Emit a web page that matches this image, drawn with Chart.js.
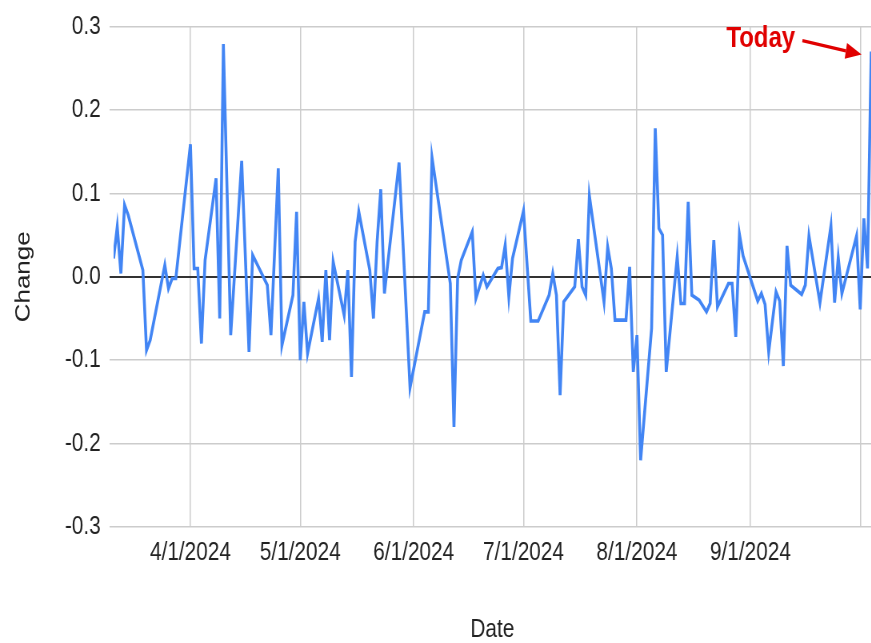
<!DOCTYPE html>
<html lang="en">
<head>
  <meta charset="UTF-8">
  <script src="https://cdn.jsdelivr.net/npm/chart.js"></script>
  <title>Change by Date</title>
  <style>
    html, body { margin: 0; padding: 0; background: #fff; overflow: hidden; }
    /* the reference is horizontally squeezed, so draw wide and squeeze */
    #wrap { width: 1089px; height: 643px; transform: scaleX(0.8); transform-origin: 0 0; }
  </style>
</head>
<body>
  <div id="wrap">
    <canvas id="grafico" width="1089" height="643"></canvas>
  </div>

  <script>
    const dates = [
      '2024-03-11','2024-03-12','2024-03-13','2024-03-14','2024-03-15','2024-03-19','2024-03-20','2024-03-21',
      '2024-03-25','2024-03-26','2024-03-27','2024-03-28',
      '2024-04-01','2024-04-02','2024-04-03','2024-04-04','2024-04-05','2024-04-08','2024-04-09','2024-04-10',
      '2024-04-12','2024-04-15','2024-04-17','2024-04-18','2024-04-22','2024-04-23','2024-04-25','2024-04-26',
      '2024-04-29','2024-04-30',
      '2024-05-01','2024-05-02','2024-05-03','2024-05-06','2024-05-07','2024-05-08','2024-05-09','2024-05-10',
      '2024-05-13','2024-05-14','2024-05-15','2024-05-16','2024-05-17','2024-05-20','2024-05-21','2024-05-22',
      '2024-05-23','2024-05-24','2024-05-28','2024-05-31',
      '2024-06-04','2024-06-05','2024-06-06','2024-06-11','2024-06-12','2024-06-13','2024-06-14','2024-06-17',
      '2024-06-18','2024-06-20','2024-06-21','2024-06-24','2024-06-25','2024-06-26','2024-06-27','2024-06-28',
      '2024-07-01','2024-07-03','2024-07-05','2024-07-08','2024-07-09','2024-07-10','2024-07-11','2024-07-12',
      '2024-07-15','2024-07-16','2024-07-17','2024-07-18','2024-07-19','2024-07-23','2024-07-24','2024-07-25',
      '2024-07-26','2024-07-29','2024-07-30','2024-07-31',
      '2024-08-01','2024-08-02','2024-08-05','2024-08-06','2024-08-07','2024-08-08','2024-08-09','2024-08-12',
      '2024-08-13','2024-08-14','2024-08-15','2024-08-16','2024-08-18','2024-08-20','2024-08-21','2024-08-22',
      '2024-08-23','2024-08-26','2024-08-27','2024-08-28','2024-08-29','2024-08-30',
      '2024-09-03','2024-09-04','2024-09-05','2024-09-06','2024-09-08','2024-09-09','2024-09-10','2024-09-11',
      '2024-09-12','2024-09-15','2024-09-16','2024-09-17','2024-09-20','2024-09-23','2024-09-24','2024-09-25',
      '2024-09-26','2024-09-30',
      '2024-10-01','2024-10-02','2024-10-03','2024-10-04'
    ];

    const changes = [
      0.022, 0.06, 0.004, 0.086, 0.074, 0.008, -0.088, -0.076,
      0.014, -0.014, -0.002, -0.002,
      0.159, 0.01, 0.01, -0.08, 0.02, 0.118, -0.05, 0.279,
      -0.07, 0.139, -0.09, 0.026, -0.01, -0.07, 0.13, -0.082,
      -0.022, 0.078,
      -0.1, -0.03, -0.092, -0.026, -0.078, 0.008, -0.076, 0.018,
      -0.046, 0.008, -0.12, 0.042, 0.078, 0.008, -0.05, 0.042,
      0.105, -0.02, 0.137, -0.133,
      -0.042, -0.042, 0.143, -0.008, -0.18, -0.002, 0.02, 0.054,
      -0.026, 0.002, -0.012, 0.01, 0.011, 0.038, -0.024, 0.022,
      0.079, -0.053, -0.053, -0.022, 0.004, -0.022, -0.142, -0.03,
      -0.012, 0.045, -0.012, -0.022, 0.097, -0.03, 0.036, 0.01,
      -0.052, -0.052, 0.012, -0.114,
      -0.07, -0.22, -0.062, 0.178, 0.058, 0.05, -0.114, 0.024,
      -0.032, -0.032, 0.09, -0.022, -0.028, -0.042, -0.032, 0.044,
      -0.036, -0.008, -0.008, -0.072, 0.051, 0.025,
      -0.029, -0.02, -0.033, -0.09, -0.018, -0.029, -0.107, 0.037,
      -0.01, -0.021, -0.01, 0.049, -0.031, 0.061, -0.031, 0.023,
      -0.02, 0.049,
      -0.039, 0.07, 0.01, 0.27
    ];

    const monthTicks = ['2024-04-01','2024-05-01','2024-06-01','2024-07-01','2024-08-01','2024-09-01','2024-10-01'];
    const monthLabels = ['4/1/2024','5/1/2024','6/1/2024','7/1/2024','8/1/2024','9/1/2024',''];

    const FONT = '"Liberation Sans", Arial, sans-serif';

    function toDay(s) {
      const [y, m, d] = s.split('-').map(Number);
      return Date.UTC(y, m - 1, d) / 864e5;
    }

    const puntos = dates.map((d, i) => ({ x: toDay(d), y: changes[i] }));

    // red "Today" label with arrow pointing at the last point
    const marcaHoy = {
      id: 'marcaHoy',
      afterDatasetsDraw(chart) {
        const data = chart.getDatasetMeta(0).data;
        const p = data[data.length - 1];
        const ctx = chart.ctx;
        ctx.save();
        ctx.fillStyle = '#e00000';
        ctx.strokeStyle = '#e00000';
        ctx.font = 'bold 30px ' + FONT;
        ctx.textAlign = 'right';
        ctx.textBaseline = 'alphabetic';
        ctx.fillText('Today', p.x - 95, p.y - 5);

        const x0 = p.x - 86, y0 = p.y - 11;
        const x1 = p.x - 12, y1 = p.y + 3;
        const ang = Math.atan2(y1 - y0, x1 - x0);
        const hl = 20, hw = 8;
        const bx = x1 - hl * Math.cos(ang), by = y1 - hl * Math.sin(ang);
        ctx.lineWidth = 3.5;
        ctx.beginPath();
        ctx.moveTo(x0, y0);
        ctx.lineTo(bx, by);
        ctx.stroke();
        ctx.beginPath();
        ctx.moveTo(x1, y1);
        ctx.lineTo(bx + hw * Math.sin(ang), by - hw * Math.cos(ang));
        ctx.lineTo(bx - hw * Math.sin(ang), by + hw * Math.cos(ang));
        ctx.closePath();
        ctx.fill();
        ctx.restore();
      }
    };

    new Chart(document.getElementById('grafico'), {
      type: 'line',
      data: {
        datasets: [{
          label: 'Change',
          data: puntos,
          borderColor: '#4285f4',
          borderWidth: 3.6,
          pointRadius: 0,
          tension: 0
        }]
      },
      options: {
        responsive: false,
        animation: false,
        devicePixelRatio: 1,
        layout: { padding: { top: 24, right: 0, bottom: 0, left: 0 } },
        plugins: {
          legend: { display: false },
          tooltip: { enabled: false }
        },
        scales: {
          x: {
            type: 'linear',
            min: toDay(dates[0]),
            max: toDay(dates[dates.length - 1]),
            afterBuildTicks: (scale) => {
              scale.ticks = monthTicks.map(s => ({ value: toDay(s) }));
            },
            afterFit: (scale) => { scale.height = 116; },
            border: { display: false },
            grid: { color: '#cccccc', lineWidth: 1.5, drawTicks: false },
            ticks: {
              autoSkip: false,
              maxRotation: 0,
              padding: 10,
              color: '#222',
              font: { family: FONT, size: 26 },
              callback: (v, i) => monthLabels[i]
            },
            title: {
              display: true,
              text: 'Date',
              color: '#222',
              font: { family: FONT, size: 26 },
              padding: { top: 0, bottom: -2 }
            }
          },
          y: {
            min: -0.3,
            max: 0.3,
            afterFit: (scale) => { scale.width = 142; },
            border: { display: false },
            grid: {
              color: (c) => Math.abs(c.tick.value) < 1e-9 ? '#333333' : '#cccccc',
              lineWidth: (c) => Math.abs(c.tick.value) < 1e-9 ? 2 : 1.5,
              tickLength: 5
            },
            ticks: {
              stepSize: 0.1,
              padding: 11,
              color: '#222',
              font: { family: FONT, size: 26 },
              callback: (v) => (Math.abs(v) < 1e-9 ? 0 : v).toFixed(1)
            },
            title: {
              display: true,
              text: 'Change',
              color: '#222',
              font: { family: FONT, size: 26 },
              padding: { top: 14, bottom: 0 }
            }
          }
        }
      },
      plugins: [marcaHoy]
    });
  </script>
</body>
</html>
